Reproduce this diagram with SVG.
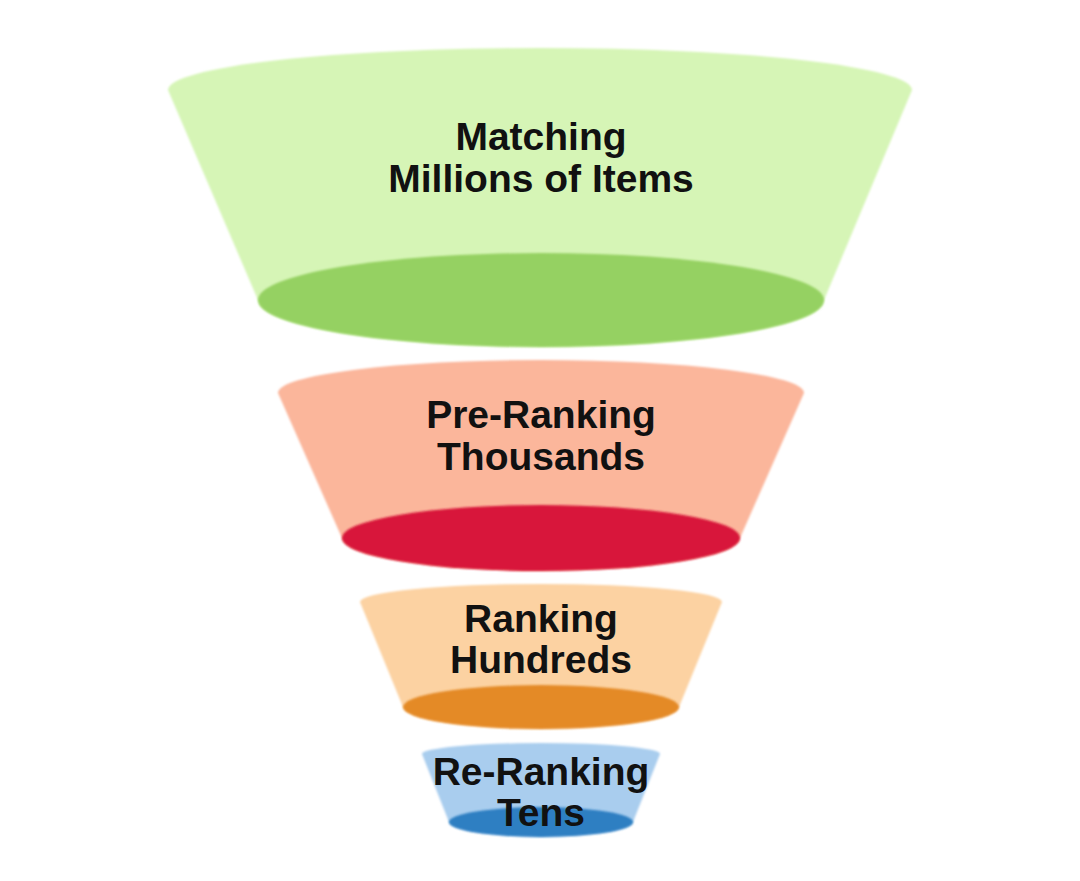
<svg xmlns="http://www.w3.org/2000/svg" width="1080" height="881" viewBox="0 0 1080 881">
<defs>
<filter id="soft" x="-5%" y="-5%" width="110%" height="110%"><feGaussianBlur stdDeviation="0.8"/></filter>
<style>
.lbl{font-family:"Liberation Sans",Arial,sans-serif;font-weight:bold;font-size:39px;fill:#111;text-anchor:middle}
</style>
</defs>
<rect width="1080" height="881" fill="#ffffff"/>
<g id="matching">
<path d="M168,90 A372,42 0 0 1 912,90 L824,300 A283,47 0 0 1 258,300 Z" fill="#d6f5b6" filter="url(#soft)"/>
<ellipse cx="541" cy="300" rx="283" ry="47" fill="#95d162" filter="url(#soft)"/>
<text class="lbl" x="541" y="150">Matching</text>
<text class="lbl" x="541" y="192">Millions of Items</text>
</g>
<g id="preranking">
<path d="M278,393 A263,33 0 0 1 804,393 L740,538 A199,33 0 0 1 342,538 Z" fill="#fbb69b" filter="url(#soft)"/>
<ellipse cx="541" cy="538" rx="199" ry="33" fill="#d8163a" filter="url(#soft)"/>
<text class="lbl" x="541" y="428">Pre-Ranking</text>
<text class="lbl" x="541" y="470">Thousands</text>
</g>
<g id="ranking">
<path d="M360,602 A181,18 0 0 1 722,602 L679,707 A138,22 0 0 1 403,707 Z" fill="#fcd2a2" filter="url(#soft)"/>
<ellipse cx="541" cy="707" rx="138" ry="22" fill="#e48a27" filter="url(#soft)"/>
<text class="lbl" x="541" y="632">Ranking</text>
<text class="lbl" x="541" y="673">Hundreds</text>
</g>
<g id="reranking">
<path d="M422,754 A119,11 0 0 1 660,754 L633,822 A92,15 0 0 1 449,822 Z" fill="#a9cdee" filter="url(#soft)"/>
<ellipse cx="541" cy="822" rx="92" ry="15" fill="#2e7fc2" filter="url(#soft)"/>
<text class="lbl" x="541" y="785">Re-Ranking</text>
<text class="lbl" x="541" y="826">Tens</text>
</g>
<g id="connectors"></g>
</svg>
